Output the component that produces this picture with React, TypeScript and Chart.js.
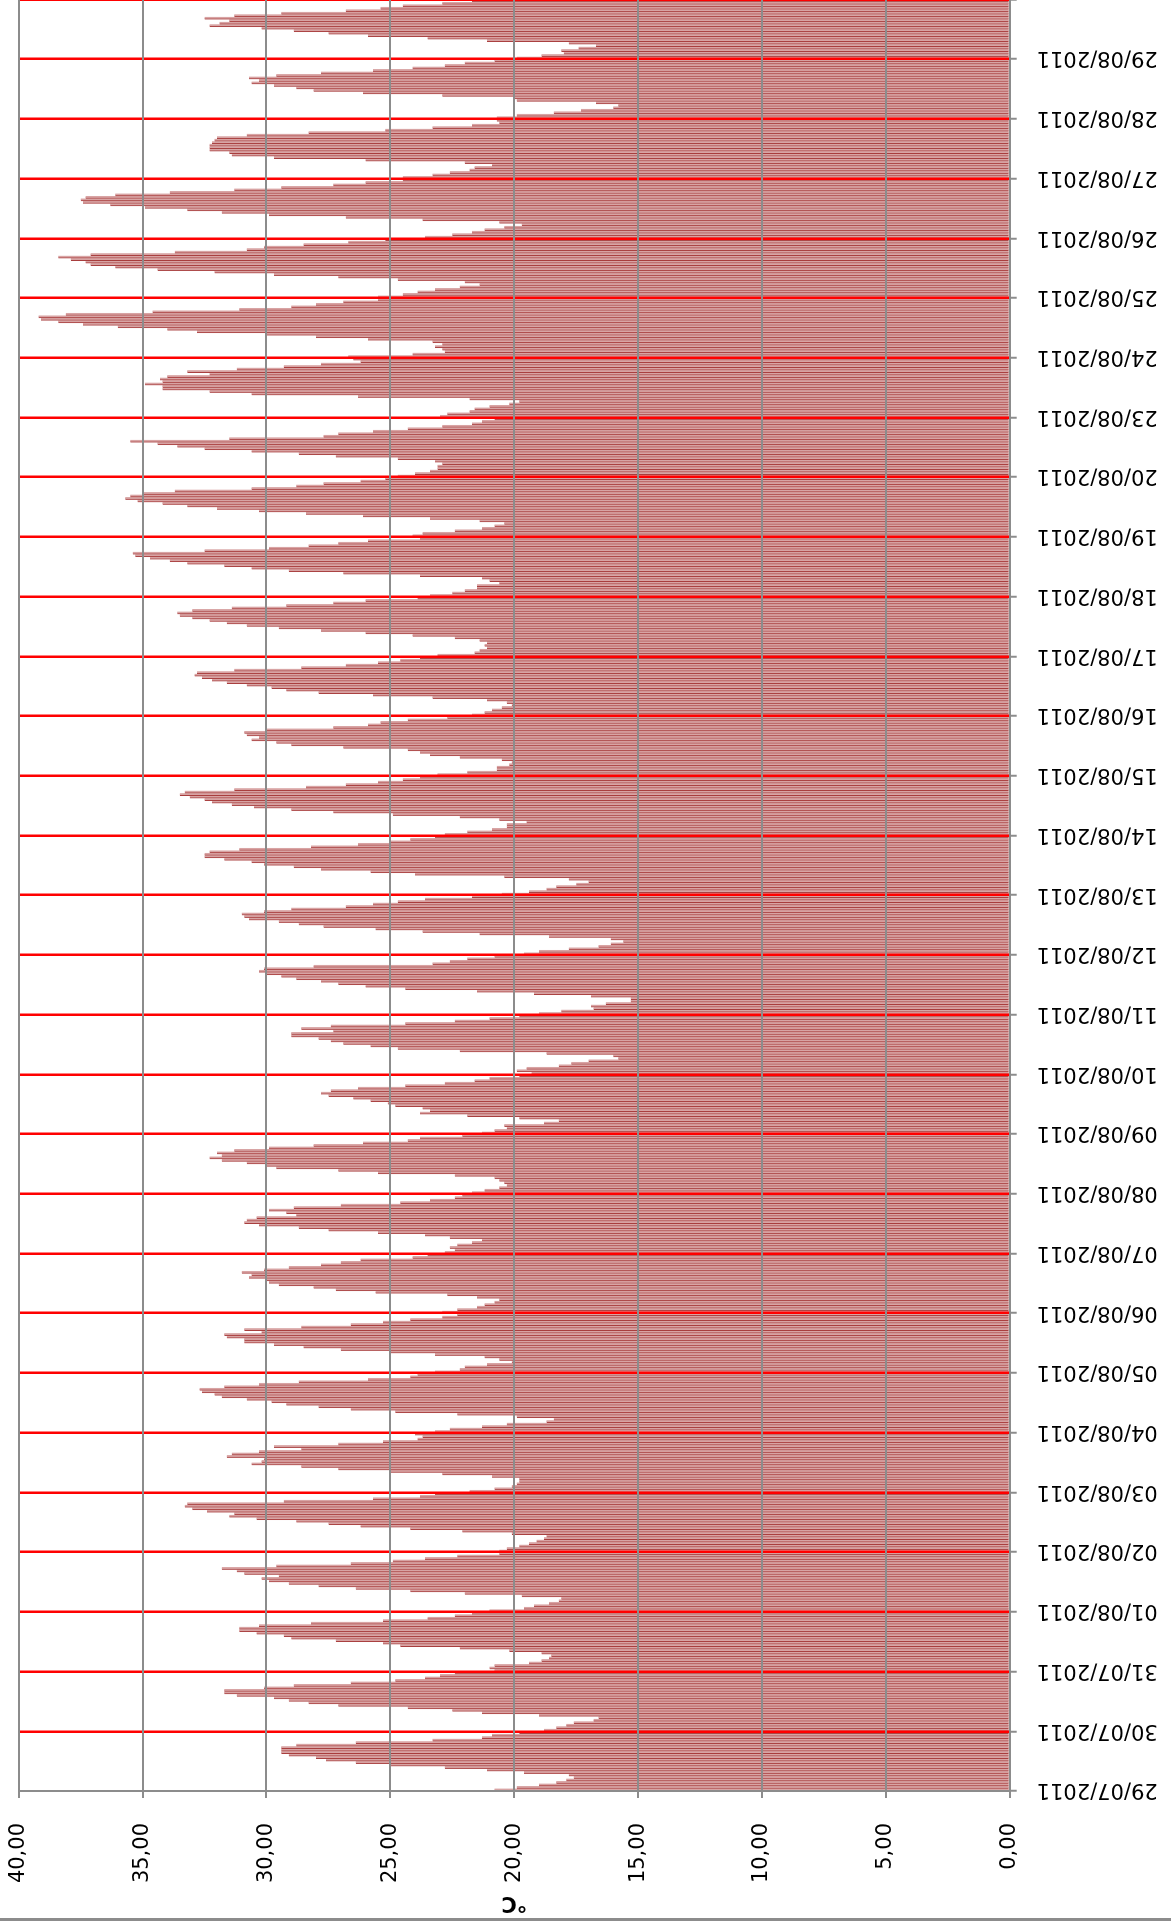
import React, { useEffect, useRef } from "react";
import { Chart, registerables } from "chart.js";

Chart.register(...registerables);

// Day tick labels (category axis, one label every 24 hourly bars)
const dayLabels = [
  "29/07/2011", "30/07/2011", "31/07/2011", "01/08/2011", "02/08/2011", "03/08/2011",
  "04/08/2011", "05/08/2011", "06/08/2011", "07/08/2011", "08/08/2011", "09/08/2011",
  "10/08/2011", "11/08/2011", "12/08/2011", "13/08/2011", "14/08/2011", "15/08/2011",
  "16/08/2011", "17/08/2011", "18/08/2011", "19/08/2011", "20/08/2011", "23/08/2011",
  "24/08/2011", "25/08/2011", "26/08/2011", "27/08/2011", "28/08/2011", "29/08/2011",
];

// Hourly temperatures (°C), hour 0..23 of each day
const jul29 = [20.8, 19.9, 19.0, 18.3, 17.9, 17.6, 17.8, 19.6, 21.1, 22.8, 25.0, 26.4, 27.6, 28.0, 29.1, 29.4, 29.4, 29.4, 28.8, 26.4, 23.3, 21.3, 20.9, 19.8];
const jul30 = [18.8, 18.3, 17.9, 17.6, 16.8, 16.6, 19.0, 21.3, 22.5, 24.3, 27.1, 28.3, 29.1, 29.7, 31.2, 31.7, 31.7, 30.1, 28.9, 26.6, 24.8, 23.6, 23.0, 22.4];
const jul31 = [20.8, 21.0, 20.8, 19.4, 18.9, 18.6, 18.5, 18.9, 20.2, 22.2, 24.6, 25.3, 27.2, 29.0, 29.3, 30.4, 31.1, 31.1, 30.3, 28.2, 25.3, 23.5, 22.4, 21.7];
const aug01 = [21.0, 19.6, 19.2, 18.6, 18.2, 18.1, 19.7, 22.0, 24.2, 26.4, 27.9, 29.1, 29.9, 30.2, 29.5, 30.9, 31.2, 31.8, 29.6, 26.6, 24.9, 23.6, 22.3, 20.6];
const aug02 = [20.6, 20.3, 19.8, 19.4, 19.1, 18.8, 18.7, 20.1, 22.1, 24.2, 26.2, 27.5, 28.8, 30.4, 31.5, 31.3, 32.4, 33.0, 33.3, 33.2, 29.3, 25.7, 23.8, 23.2];
const aug03 = [21.8, 20.8, 20.1, 19.9, 19.8, 19.8, 20.9, 22.9, 25.0, 27.1, 28.6, 30.6, 30.2, 30.1, 31.6, 31.4, 30.3, 28.6, 29.7, 27.1, 25.3, 23.9, 23.7, 24.0];
const aug04 = [23.2, 22.6, 21.3, 20.3, 18.7, 18.4, 19.9, 22.3, 24.8, 26.6, 27.9, 29.2, 29.8, 30.8, 31.8, 32.1, 32.6, 32.7, 31.7, 30.3, 28.7, 25.9, 24.2, 23.9];
const aug05 = [23.2, 22.2, 22.0, 21.1, 20.1, 20.6, 21.2, 23.2, 25.0, 27.0, 28.5, 29.7, 30.9, 30.9, 31.6, 31.7, 30.2, 30.9, 28.6, 26.6, 25.3, 24.2, 22.9, 22.3];
const aug06 = [22.9, 22.3, 21.5, 21.2, 20.8, 20.6, 21.5, 22.7, 25.6, 27.2, 28.1, 29.5, 29.9, 30.0, 30.7, 30.6, 31.0, 30.1, 29.1, 27.8, 27.0, 26.2, 24.1, 23.5];
const aug07 = [22.8, 22.4, 22.6, 22.3, 21.7, 21.3, 22.6, 23.6, 25.5, 27.5, 28.7, 30.3, 30.9, 30.8, 30.4, 28.8, 29.2, 29.9, 28.9, 27.0, 24.6, 23.4, 22.4, 22.1];
const aug08 = [21.7, 21.2, 20.6, 20.3, 20.4, 20.6, 20.8, 22.4, 25.5, 27.1, 29.6, 30.0, 30.8, 31.8, 32.3, 31.8, 32.0, 31.3, 29.9, 28.1, 26.1, 24.3, 23.8, 22.1];
const aug09 = [21.3, 20.8, 20.3, 20.4, 18.8, 18.2, 19.8, 21.9, 23.8, 23.4, 23.7, 24.8, 25.1, 25.8, 26.5, 27.5, 27.8, 27.4, 26.3, 24.4, 22.8, 21.6, 21.0, 19.8];
const aug10 = [19.3, 19.9, 19.5, 18.2, 17.7, 17.0, 15.8, 16.0, 18.7, 22.2, 24.7, 25.8, 26.9, 27.4, 27.9, 29.0, 29.0, 27.3, 28.6, 27.4, 24.4, 22.4, 21.0, 19.8];
const aug11 = [19.0, 18.1, 16.8, 16.9, 16.3, 15.3, 15.3, 16.9, 19.2, 21.5, 24.4, 26.0, 27.1, 27.8, 28.8, 29.4, 30.0, 30.3, 30.1, 28.1, 23.3, 22.6, 21.9, 20.8];
const aug12 = [19.6, 19.0, 17.8, 16.6, 16.1, 15.6, 16.1, 18.6, 21.4, 23.7, 25.6, 27.7, 28.7, 29.5, 30.7, 30.9, 31.0, 30.1, 29.0, 26.8, 25.7, 24.7, 23.6, 21.7];
const aug13 = [20.5, 19.4, 18.7, 18.3, 17.5, 17.0, 17.8, 20.4, 24.0, 25.8, 27.8, 28.9, 30.1, 30.6, 31.7, 32.5, 32.5, 32.3, 31.1, 28.2, 26.3, 25.0, 24.2, 23.2];
const aug14 = [22.8, 21.9, 20.9, 20.3, 20.3, 19.5, 20.6, 22.2, 24.9, 27.3, 29.0, 30.5, 31.4, 32.2, 32.5, 33.1, 33.5, 33.3, 31.3, 28.4, 26.8, 25.5, 24.5, 23.8];
const aug15 = [23.1, 21.9, 20.7, 20.7, 20.2, 20.1, 20.5, 22.2, 23.4, 23.8, 24.3, 26.9, 29.0, 29.6, 30.6, 30.3, 30.8, 30.9, 30.0, 27.3, 25.9, 25.4, 24.3, 22.7];
const aug16 = [21.7, 21.2, 20.9, 20.5, 20.1, 20.3, 21.1, 23.3, 25.7, 27.9, 29.2, 29.8, 30.8, 31.6, 32.2, 32.6, 32.9, 32.8, 31.3, 28.6, 26.8, 25.5, 24.6, 23.8];
const aug17 = [23.1, 21.6, 21.4, 21.1, 21.2, 21.1, 21.4, 22.4, 24.1, 26.0, 27.8, 29.5, 30.8, 31.6, 32.3, 33.0, 33.5, 33.6, 33.0, 31.4, 29.2, 27.3, 26.0, 23.9];
const aug18 = [23.4, 22.5, 22.0, 21.5, 21.5, 20.6, 21.0, 21.3, 23.8, 26.9, 29.1, 30.6, 31.7, 33.2, 33.9, 34.7, 35.3, 35.4, 32.5, 29.9, 28.3, 27.1, 25.9, 23.8];
const aug19 = [24.1, 23.7, 22.4, 21.3, 20.8, 20.4, 21.4, 23.4, 26.1, 28.4, 30.3, 32.0, 33.2, 34.2, 35.2, 35.7, 35.5, 35.0, 33.7, 30.6, 28.8, 27.7, 26.2, 25.2];
const aug20 = [24.7, 24.0, 23.4, 23.1, 23.1, 22.9, 23.2, 24.7, 27.2, 28.7, 30.6, 32.5, 33.6, 34.4, 35.5, 31.5, 27.7, 27.1, 25.7, 24.3, 22.9, 21.7, 21.3, 20.8];
const aug23 = [23.0, 22.7, 21.8, 21.6, 21.0, 20.2, 19.8, 21.8, 26.3, 30.6, 32.3, 34.2, 34.2, 34.9, 34.2, 34.3, 34.0, 32.3, 33.2, 31.2, 29.3, 27.8, 26.2, 26.5];
const aug24 = [26.7, 24.1, 22.8, 22.9, 23.2, 22.9, 23.3, 25.9, 28.0, 30.0, 32.8, 34.0, 36.0, 37.4, 38.4, 39.1, 39.2, 38.1, 34.6, 31.1, 29.0, 28.0, 26.9, 25.5];
const aug25 = [25.5, 24.5, 23.9, 23.2, 22.2, 21.4, 22.0, 24.7, 27.1, 29.7, 32.1, 34.4, 36.1, 37.1, 37.3, 37.9, 38.4, 37.1, 33.7, 30.8, 30.1, 28.5, 26.7, 25.2];
const aug26 = [23.6, 22.5, 21.7, 21.2, 20.4, 19.7, 20.6, 23.7, 26.8, 29.9, 31.8, 33.2, 34.9, 36.3, 37.4, 37.5, 37.3, 36.1, 33.9, 31.3, 29.4, 27.3, 26.0, 24.5];
const aug27 = [24.5, 23.3, 22.6, 21.8, 21.6, 20.9, 22.0, 26.0, 29.7, 31.4, 31.5, 32.3, 32.3, 32.3, 32.2, 32.1, 32.0, 30.8, 28.3, 25.2, 23.3, 21.7, 20.6, 20.7];
const aug28 = [20.7, 19.9, 18.4, 17.3, 16.0, 15.8, 16.7, 19.9, 20.0, 22.9, 26.1, 28.1, 28.8, 29.7, 30.6, 30.3, 30.7, 29.6, 27.8, 25.7, 24.1, 22.8, 22.0, 20.8];
const aug29 = [19.9, 18.9, 18.0, 18.1, 17.4, 16.7, 17.8, 21.1, 23.5, 25.9, 27.5, 28.9, 30.2, 32.3, 31.9, 31.5, 32.5, 31.3, 29.4, 26.8, 25.4, 24.5, 22.9, 21.7];

const dayValues = [
  jul29, jul30, jul31, aug01, aug02, aug03, aug04, aug05, aug06, aug07,
  aug08, aug09, aug10, aug11, aug12, aug13, aug14, aug15, aug16, aug17,
  aug18, aug19, aug20, aug23, aug24, aug25, aug26, aug27, aug28, aug29,
];

const yTicksMin = 0;
const yTicksMax = 40;
const yTickStep = 5;
const axisTitle = "°C";

const HOURS = 24;
const labels: string[] = [];
const values: number[] = [];
dayValues.forEach((day, d) => {
  day.forEach((v, h) => {
    labels.push(`${dayLabels[d]} ${String(h).padStart(2, "0")}:00`);
    values.push(v);
  });
});

const CW = 1960; // canvas width (chart drawn unrotated, then turned -90deg)
const CH = 1171;
const PLOT_LEFT = 130;
const PLOT_RIGHT = 1921.6;
const PLOT_TOP = 18.7;
const PLOT_BOTTOM = 1009.7;
const FONT = "'DejaVu Sans', sans-serif";
const GRAY = "#8c8c8c";

const frame = {
  id: "frame",
  beforeDraw(chart: any) {
    const c = chart.ctx;
    c.save();
    c.fillStyle = "#ffffff";
    c.fillRect(0, 0, chart.width, chart.height);
    c.restore();
  },
  afterDraw(chart: any) {
    const c = chart.ctx;
    c.save();
    c.fillStyle = GRAY;
    c.fillRect(0, 0, 3, chart.height);
    c.restore();
  },
};

export default function App() {
  const ref = useRef<HTMLCanvasElement>(null);

  useEffect(() => {
    if (!ref.current) return;
    const chart = new Chart(ref.current, {
      type: "bar",
      data: {
        labels,
        datasets: [
          {
            data: values,
            backgroundColor: "#d8a4a4",
            borderColor: "#a83d3d",
            borderWidth: { left: 1, right: 0, top: 0, bottom: 0 },
            borderSkipped: false,
            barPercentage: 1,
            categoryPercentage: 1,
          } as any,
        ],
      },
      options: {
        responsive: false,
        maintainAspectRatio: false,
        animation: false,
        devicePixelRatio: 1,
        layout: {
          padding: { left: 0, right: CW - PLOT_RIGHT, top: PLOT_TOP, bottom: 0 },
        },
        plugins: {
          legend: { display: false },
          tooltip: { enabled: false },
        },
        scales: {
          x: {
            type: "category",
            offset: true,
            grid: {
              z: 1,
              offset: true,
              color: (ctx: any) =>
                ctx.index === undefined || (ctx.index > 0 && ctx.index % HOURS === 0)
                  ? "#ff0000"
                  : "rgba(0,0,0,0)",
              lineWidth: 2.5,
              tickColor: (ctx: any) =>
                ctx.index === undefined || ctx.index % HOURS === 0 ? GRAY : "rgba(0,0,0,0)",
              tickWidth: 2,
              tickLength: 7,
            },
            border: { color: GRAY, width: 2, z: 2 },
            ticks: {
              z: 2,
              autoSkip: false,
              maxRotation: 90,
              minRotation: 90,
              padding: 20,
              color: "#000000",
              font: { family: FONT, size: 21 },
              callback: (_v: any, i: number) => (i % HOURS === 0 ? dayLabels[i / HOURS] : ""),
            },
            afterFit: (s: any) => {
              s.height = CH - PLOT_BOTTOM;
              s.paddingLeft = 0;
              s.paddingRight = 0;
            },
          } as any,
          y: {
            min: yTicksMin,
            max: yTicksMax,
            grid: {
              z: 1,
              color: GRAY,
              lineWidth: 2,
              tickLength: 7,
              tickColor: GRAY,
            },
            border: { color: GRAY, width: 2, z: 2 },
            ticks: {
              z: 2,
              stepSize: yTickStep,
              padding: 25,
              color: "#000000",
              font: { family: FONT, size: 21 },
              callback: (v: any) => Number(v).toFixed(2).replace(".", ","),
            },
            title: {
              display: true,
              text: axisTitle,
              color: "#000000",
              font: { family: FONT, size: 21, weight: "bold" },
              padding: { top: 6.4, bottom: 0 },
            },
            afterFit: (s: any) => {
              s.width = PLOT_LEFT;
              s.paddingTop = 0;
              s.paddingBottom = 0;
            },
          } as any,
        },
      },
      plugins: [frame],
    });
    return () => chart.destroy();
  }, []);

  return (
    <div
      style={{
        position: "absolute",
        left: 0,
        top: 0,
        width: 1171,
        height: 1921,
        overflow: "hidden",
        background: "#ffffff",
      }}
    >
      <div
        style={{
          position: "absolute",
          left: 0,
          top: 0,
          width: 1921,
          height: CH,
          overflow: "hidden",
          transformOrigin: "0 0",
          transform: "translateY(1921px) rotate(-90deg)",
        }}
      >
        <canvas ref={ref} width={CW} height={CH} style={{ display: "block" }} />
      </div>
    </div>
  );
}
